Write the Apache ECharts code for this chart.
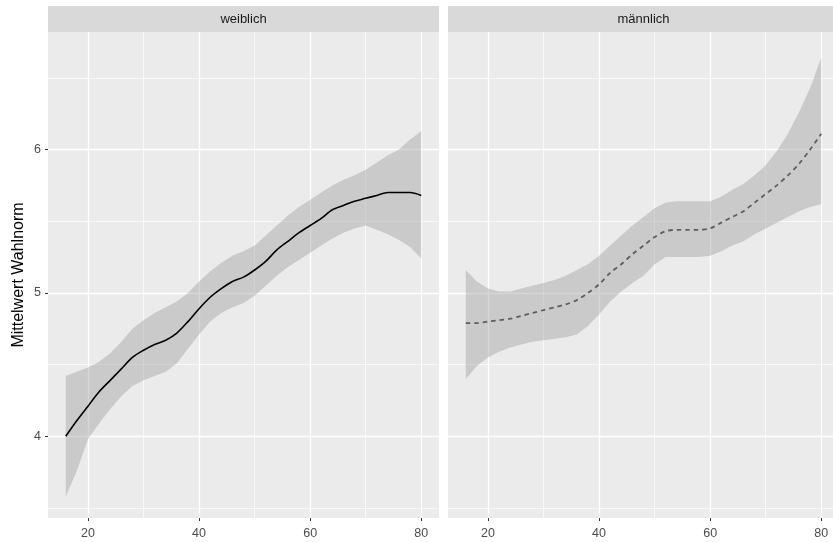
<!DOCTYPE html>
<html>
<head>
<meta charset="utf-8">
<script src="https://cdn.jsdelivr.net/npm/echarts@6/dist/echarts.min.js"></script>
<style>
html,body{margin:0;padding:0;background:#fff;}
#chart{width:833px;height:542px;}
</style>
</head>
<body>
<div id="chart"></div>
<script>
// ---- data ----
const ages = [16,18,20,22,24,26,28,30,32,34,36,38,40,42,44,46,48,50,52,54,56,58,60,62,64,66,68,70,72,74,76,78,80];

const weiblichFit   = [4.00,4.11,4.21,4.31,4.39,4.47,4.55,4.60,4.64,4.67,4.72,4.80,4.89,4.97,5.03,5.08,5.11,5.16,5.22,5.30,5.36,5.42,5.47,5.52,5.58,5.61,5.64,5.66,5.68,5.70,5.70,5.70,5.68];
const weiblichUpper = [4.42,4.45,4.48,4.52,4.58,4.66,4.75,4.81,4.86,4.90,4.94,5.00,5.08,5.15,5.21,5.26,5.29,5.33,5.40,5.47,5.54,5.60,5.65,5.70,5.75,5.79,5.82,5.86,5.91,5.96,6.00,6.07,6.13];
const weiblichLower = [3.58,3.76,3.98,4.09,4.19,4.28,4.35,4.39,4.42,4.45,4.51,4.61,4.71,4.80,4.86,4.90,4.93,4.98,5.05,5.12,5.18,5.23,5.28,5.33,5.38,5.42,5.45,5.47,5.44,5.41,5.37,5.32,5.24];

const maennlichFit   = [4.79,4.79,4.80,4.81,4.82,4.84,4.86,4.88,4.90,4.92,4.95,5.00,5.06,5.14,5.20,5.27,5.33,5.39,5.43,5.44,5.44,5.44,5.45,5.49,5.53,5.57,5.63,5.69,5.75,5.82,5.90,6.00,6.11];
const maennlichUpper = [5.16,5.08,5.03,5.01,5.01,5.03,5.05,5.07,5.09,5.12,5.16,5.20,5.26,5.33,5.40,5.47,5.53,5.59,5.63,5.64,5.64,5.64,5.64,5.67,5.72,5.76,5.82,5.89,5.99,6.11,6.26,6.43,6.64];
const maennlichLower = [4.40,4.49,4.55,4.59,4.62,4.64,4.66,4.67,4.68,4.69,4.71,4.77,4.85,4.94,5.01,5.07,5.12,5.20,5.25,5.25,5.25,5.25,5.26,5.29,5.33,5.36,5.41,5.45,5.49,5.53,5.57,5.60,5.62];

const panelNames = ['weiblich', 'männlich'];
const xTickLabels = [20, 40, 60, 80];
const xMinorBreaks = [30, 50, 70];
const yTickLabels = [4, 5, 6];
const yMinorBreaks = [3.5, 4.5, 5.5, 6.5];
const yTitle = 'Mittelwert Wahlnorm';

// ---- helpers ----
const FONT = '"Liberation Sans", Arial, sans-serif';
const xRange = [12.8, 83.2];
const yRange = [3.43, 6.82];
// the right panel is cut off by the picture edge: keep the same scale as the left panel
const CHART_W = 833, PANEL_W = 391, RIGHT_LEFT = 448;
const rightVisibleMax = xRange[0] + (xRange[1] - xRange[0]) * (CHART_W - RIGHT_LEFT) / PANEL_W;

function bandRows(lo, hi) { return ages.map((a, i) => [a, lo[i], hi[i]]); }
function lineRows(v) { return ages.map((a, i) => [a, v[i]]); }

function bandSeries(idx, lo, hi) {
  return {
    type: 'custom',
    xAxisIndex: idx, yAxisIndex: idx,
    data: bandRows(lo, hi),
    encode: { x: 0, y: [1, 2] },
    silent: true,
    z: 2,
    renderItem: function (params, api) {
      if (params.dataIndex !== 0) return null;
      const n = params.dataInsideLength;
      const pts = [];
      for (let i = 0; i < n; i++) pts.push(api.coord([api.value(0, i), api.value(2, i)]));
      for (let i = n - 1; i >= 0; i--) pts.push(api.coord([api.value(0, i), api.value(1, i)]));
      return { type: 'polygon', shape: { points: pts }, style: { fill: 'rgba(153,153,153,0.4)' } };
    }
  };
}

function gridLines() {
  const d = [];
  xTickLabels.forEach(v => d.push({ xAxis: v, lineStyle: { width: 1.3 } }));
  xMinorBreaks.forEach(v => d.push({ xAxis: v, lineStyle: { width: 0.7 } }));
  yTickLabels.forEach(v => d.push({ yAxis: v, lineStyle: { width: 1.3 } }));
  yMinorBreaks.forEach(v => d.push({ yAxis: v, lineStyle: { width: 0.7 } }));
  return {
    silent: true, symbol: ['none', 'none'], label: { show: false },
    lineStyle: { color: '#ffffff', type: 'solid' }, animation: false, z: 1,
    emphasis: { disabled: true },
    data: d
  };
}

function xAxisDef(idx) {
  return {
    type: 'value', gridIndex: idx, min: xRange[0], max: idx === 0 ? xRange[1] : rightVisibleMax,
    axisLine: { show: false },
    splitLine: { show: false },
    axisTick: { show: true, length: 3, customValues: xTickLabels, lineStyle: { color: '#333333', width: 1 } },
    axisLabel: { customValues: xTickLabels, color: '#4d4d4d', fontSize: 12.5, fontFamily: FONT, margin: 9 }
  };
}
function yAxisDef(idx) {
  const base = {
    type: 'value', gridIndex: idx, min: yRange[0], max: yRange[1],
    axisLine: { show: false },
    splitLine: { show: false },
    axisTick: { show: idx === 0, length: 3, customValues: yTickLabels, lineStyle: { color: '#333333', width: 1 } },
    axisLabel: { show: idx === 0, customValues: yTickLabels, color: '#4d4d4d', fontSize: 12.5, fontFamily: FONT, margin: 7 }
  };
  if (idx === 0) {
    base.name = yTitle;
    base.nameLocation = 'middle';
    base.nameRotate = 90;
    base.nameGap = 21;
    base.nameTextStyle = { color: '#000000', fontSize: 16, fontFamily: FONT };
  }
  return base;
}

const chart = echarts.init(document.getElementById('chart'), null, { renderer: 'canvas' });
const option = {
  animation: false,
  backgroundColor: '#ffffff',
  grid: [
    { left: 48, width: PANEL_W, top: 32, bottom: 24, show: true, backgroundColor: '#ebebeb', borderWidth: 0 },
    { left: RIGHT_LEFT, right: 0, top: 32, bottom: 24, show: true, backgroundColor: '#ebebeb', borderWidth: 0 }
  ],
  xAxis: [xAxisDef(0), xAxisDef(1)],
  yAxis: [yAxisDef(0), yAxisDef(1)],
  graphic: [
    { type: 'rect', left: 48, top: 6, shape: { width: PANEL_W, height: 26 }, style: { fill: '#d9d9d9' }, silent: true },
    { type: 'rect', left: RIGHT_LEFT, top: 6, shape: { width: CHART_W - RIGHT_LEFT, height: 26 }, style: { fill: '#d9d9d9' }, silent: true },
    { type: 'text', x: 48 + PANEL_W / 2, y: 19, style: { text: panelNames[0], fill: '#1a1a1a', font: '13px ' + FONT, align: 'center', verticalAlign: 'middle' }, silent: true },
    { type: 'text', x: RIGHT_LEFT + PANEL_W / 2, y: 19, style: { text: panelNames[1], fill: '#1a1a1a', font: '13px ' + FONT, align: 'center', verticalAlign: 'middle' }, silent: true }
  ],
  series: [
    bandSeries(0, weiblichLower, weiblichUpper),
    bandSeries(1, maennlichLower, maennlichUpper),
    {
      type: 'line', name: panelNames[0], xAxisIndex: 0, yAxisIndex: 0,
      data: lineRows(weiblichFit), smooth: 0.3, showSymbol: false, symbol: 'none', z: 3,
      lineStyle: { color: '#000000', width: 1.6 },
      markLine: gridLines()
    },
    {
      type: 'line', name: panelNames[1], xAxisIndex: 1, yAxisIndex: 1,
      data: lineRows(maennlichFit), smooth: 0.3, showSymbol: false, symbol: 'none', z: 3,
      lineStyle: { color: '#5e5e5e', width: 1.8, type: [4.5, 4] },
      markLine: gridLines()
    }
  ]
};
chart.setOption(option);
</script>
</body>
</html>
